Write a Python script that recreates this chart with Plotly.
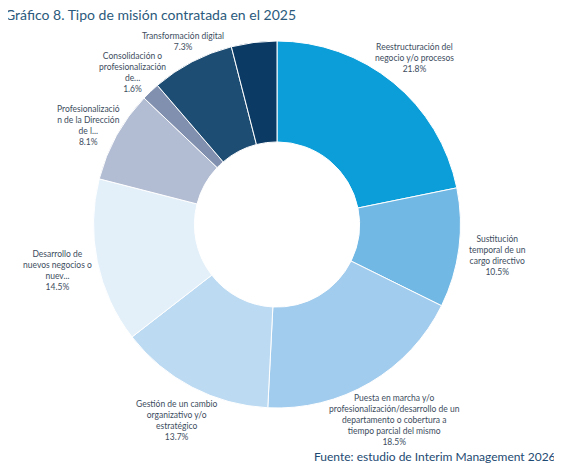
import plotly.graph_objects as go

categories = ["Reestructuración del<br>negocio y/o procesos", "Sustitución<br>temporal de un<br>cargo directivo",
              "Puesta en marcha y/o<br>profesionalización/desarrollo de un<br>departamento o cobertura a<br>tiempo parcial del mismo",
              "Gestión de un cambio<br>organizativo y/o<br>estratégico", "Desarrollo de<br>nuevos negocios o<br>nuev...",
              "Profesionalizació<br>n de la Dirección<br>de l...", "Consolidación o<br>profesionalización<br>de...",
              "Transformación digital", "Otros"]
values = [21.8, 10.5, 18.5, 13.7, 14.5, 8.1, 1.6, 7.3, 4.0]
colors = ["#0b9ed9", "#72b8e4", "#a2cced", "#bcdaf2", "#e3f0fa", "#b2bcd2", "#8090ae", "#1e4d74", "#0b3a64"]
label_pos = [(414, 58), (497, 255), (394, 420), (176, 420), (57, 270), (88, 125), (132, 72), (183, 42), None]

OFF = 8
W, H = 562 - OFF, 465 - OFF
def px(x): return (x - OFF) / W
def py(y): return 1 - (y - OFF) / H

fig = go.Figure(go.Pie(values=values, labels=categories, hole=0.45, sort=False, direction="clockwise",
                       rotation=0, marker=dict(colors=colors, line=dict(color="white", width=1)),
                       textinfo="none", hoverinfo="label+percent", showlegend=False,
                       domain=dict(x=[px(277-184), px(277+184)], y=[py(408), py(41)])))
for c, v, p in zip(categories, values, label_pos):
    if p is None:
        continue
    fig.add_annotation(x=px(p[0]), y=py(p[1]), xref="paper", yref="paper", text=f"{c}<br>{v}%",
                       xanchor="center", yanchor="middle",
                       showarrow=False, font=dict(size=8.5, color="#3d4d60", family="Lato"), align="center")
fig.add_annotation(x=px(3), y=py(15), xref="paper", yref="paper", xanchor="left", yanchor="middle",
                   text="Gráfico 8. Tipo de misión contratada en el 2025",
                   showarrow=False, font=dict(size=14, color="#2b5a7c", family="Lato"))
fig.add_annotation(x=px(558), y=py(456), xref="paper", yref="paper", xanchor="right", yanchor="middle",
                   text="Fuente: estudio de Interim Management 2026",
                   showarrow=False, font=dict(size=12, color="#1d4a72", family="Lato"))
fig.update_layout(width=W, height=H, margin=dict(l=0, r=0, t=0, b=0), paper_bgcolor="white")
fig.write_html("out.html")
